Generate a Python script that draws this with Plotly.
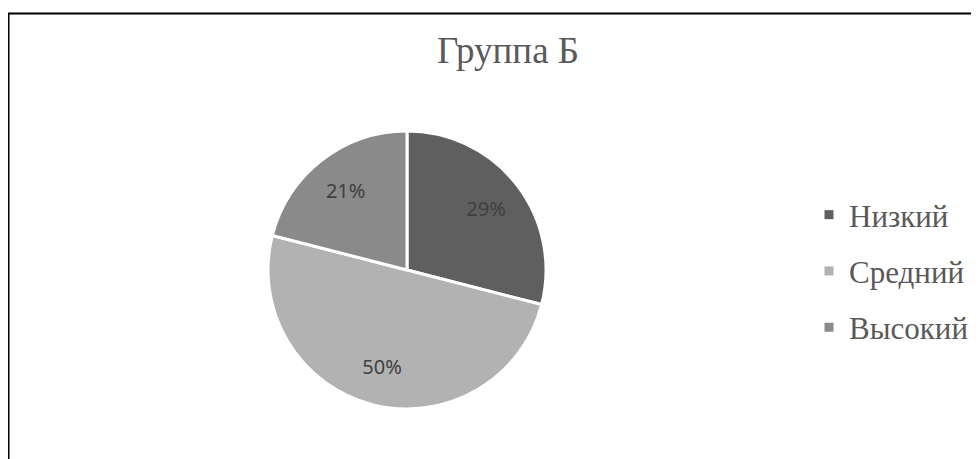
import plotly.graph_objects as go

# data
title = 'Группа Б'
labels = ['Низкий', 'Средний', 'Высокий']
values = [29, 50, 21]
colors = ['#5f5f5f', '#b2b2b2', '#8a8a8a']

W, H = 979, 459
OFF = 8  # page body margin shifts the figure

cx, cy, r = 407 - OFF, 270 - OFF, 139
dom = dict(x=[(cx - r) / W, (cx + r) / W], y=[1 - (cy + r) / H, 1 - (cy - r) / H])

fig = go.Figure()
# filled pie
fig.add_trace(go.Pie(
    labels=labels, values=values, sort=False, direction='clockwise', rotation=0,
    marker=dict(colors=colors, line=dict(color='white', width=3)),
    textinfo='none', showlegend=False, hoverinfo='label+percent', domain=dom,
))
# transparent ring on top, only for the percent labels (puts them further out, like Excel)
fig.add_trace(go.Pie(
    labels=labels, values=values, sort=False, direction='clockwise', rotation=0, hole=0.44,
    marker=dict(colors=['rgba(0,0,0,0)'] * 3, line=dict(width=0)),
    textinfo='percent', textposition='inside', insidetextorientation='horizontal',
    textfont=dict(family='Noto Sans', size=20, color='#404040'),
    showlegend=False, hoverinfo='skip', domain=dom,
))

# legend entries (separate groups so the row gap can be set)
for lab, col in zip(labels, colors):
    fig.add_trace(go.Scatter(
        x=[None], y=[None], mode='markers', name=lab, legendgroup=lab,
        marker=dict(symbol='square', size=9, color=col),
    ))

fig.update_layout(
    width=W, height=H,
    margin=dict(l=0, r=0, t=0, b=0),
    paper_bgcolor='white', plot_bgcolor='white',
    title=dict(text=title, x=(508 - OFF) / W, xanchor='center', y=1 - (50 - OFF) / H, yanchor='middle',
               font=dict(family='Liberation Serif', size=37, color='#595959')),
    xaxis=dict(visible=False), yaxis=dict(visible=False),
    legend=dict(x=801 / W, xanchor='left', y=1 - (271 - OFF) / H, yanchor='middle',
                font=dict(family='Liberation Serif', size=31, color='#595959'),
                tracegroupgap=13, itemwidth=30),
    shapes=[
        dict(type='line', xref='paper', yref='paper', x0=0, x1=1, y0=1 - 5.5 / H, y1=1 - 5.5 / H,
             line=dict(color='black', width=2)),
        dict(type='line', xref='paper', yref='paper', x0=0.5 / W, x1=0.5 / W, y0=0, y1=1 - 5.5 / H,
             line=dict(color='black', width=2)),
    ],
)

fig.write_html('out.html')
